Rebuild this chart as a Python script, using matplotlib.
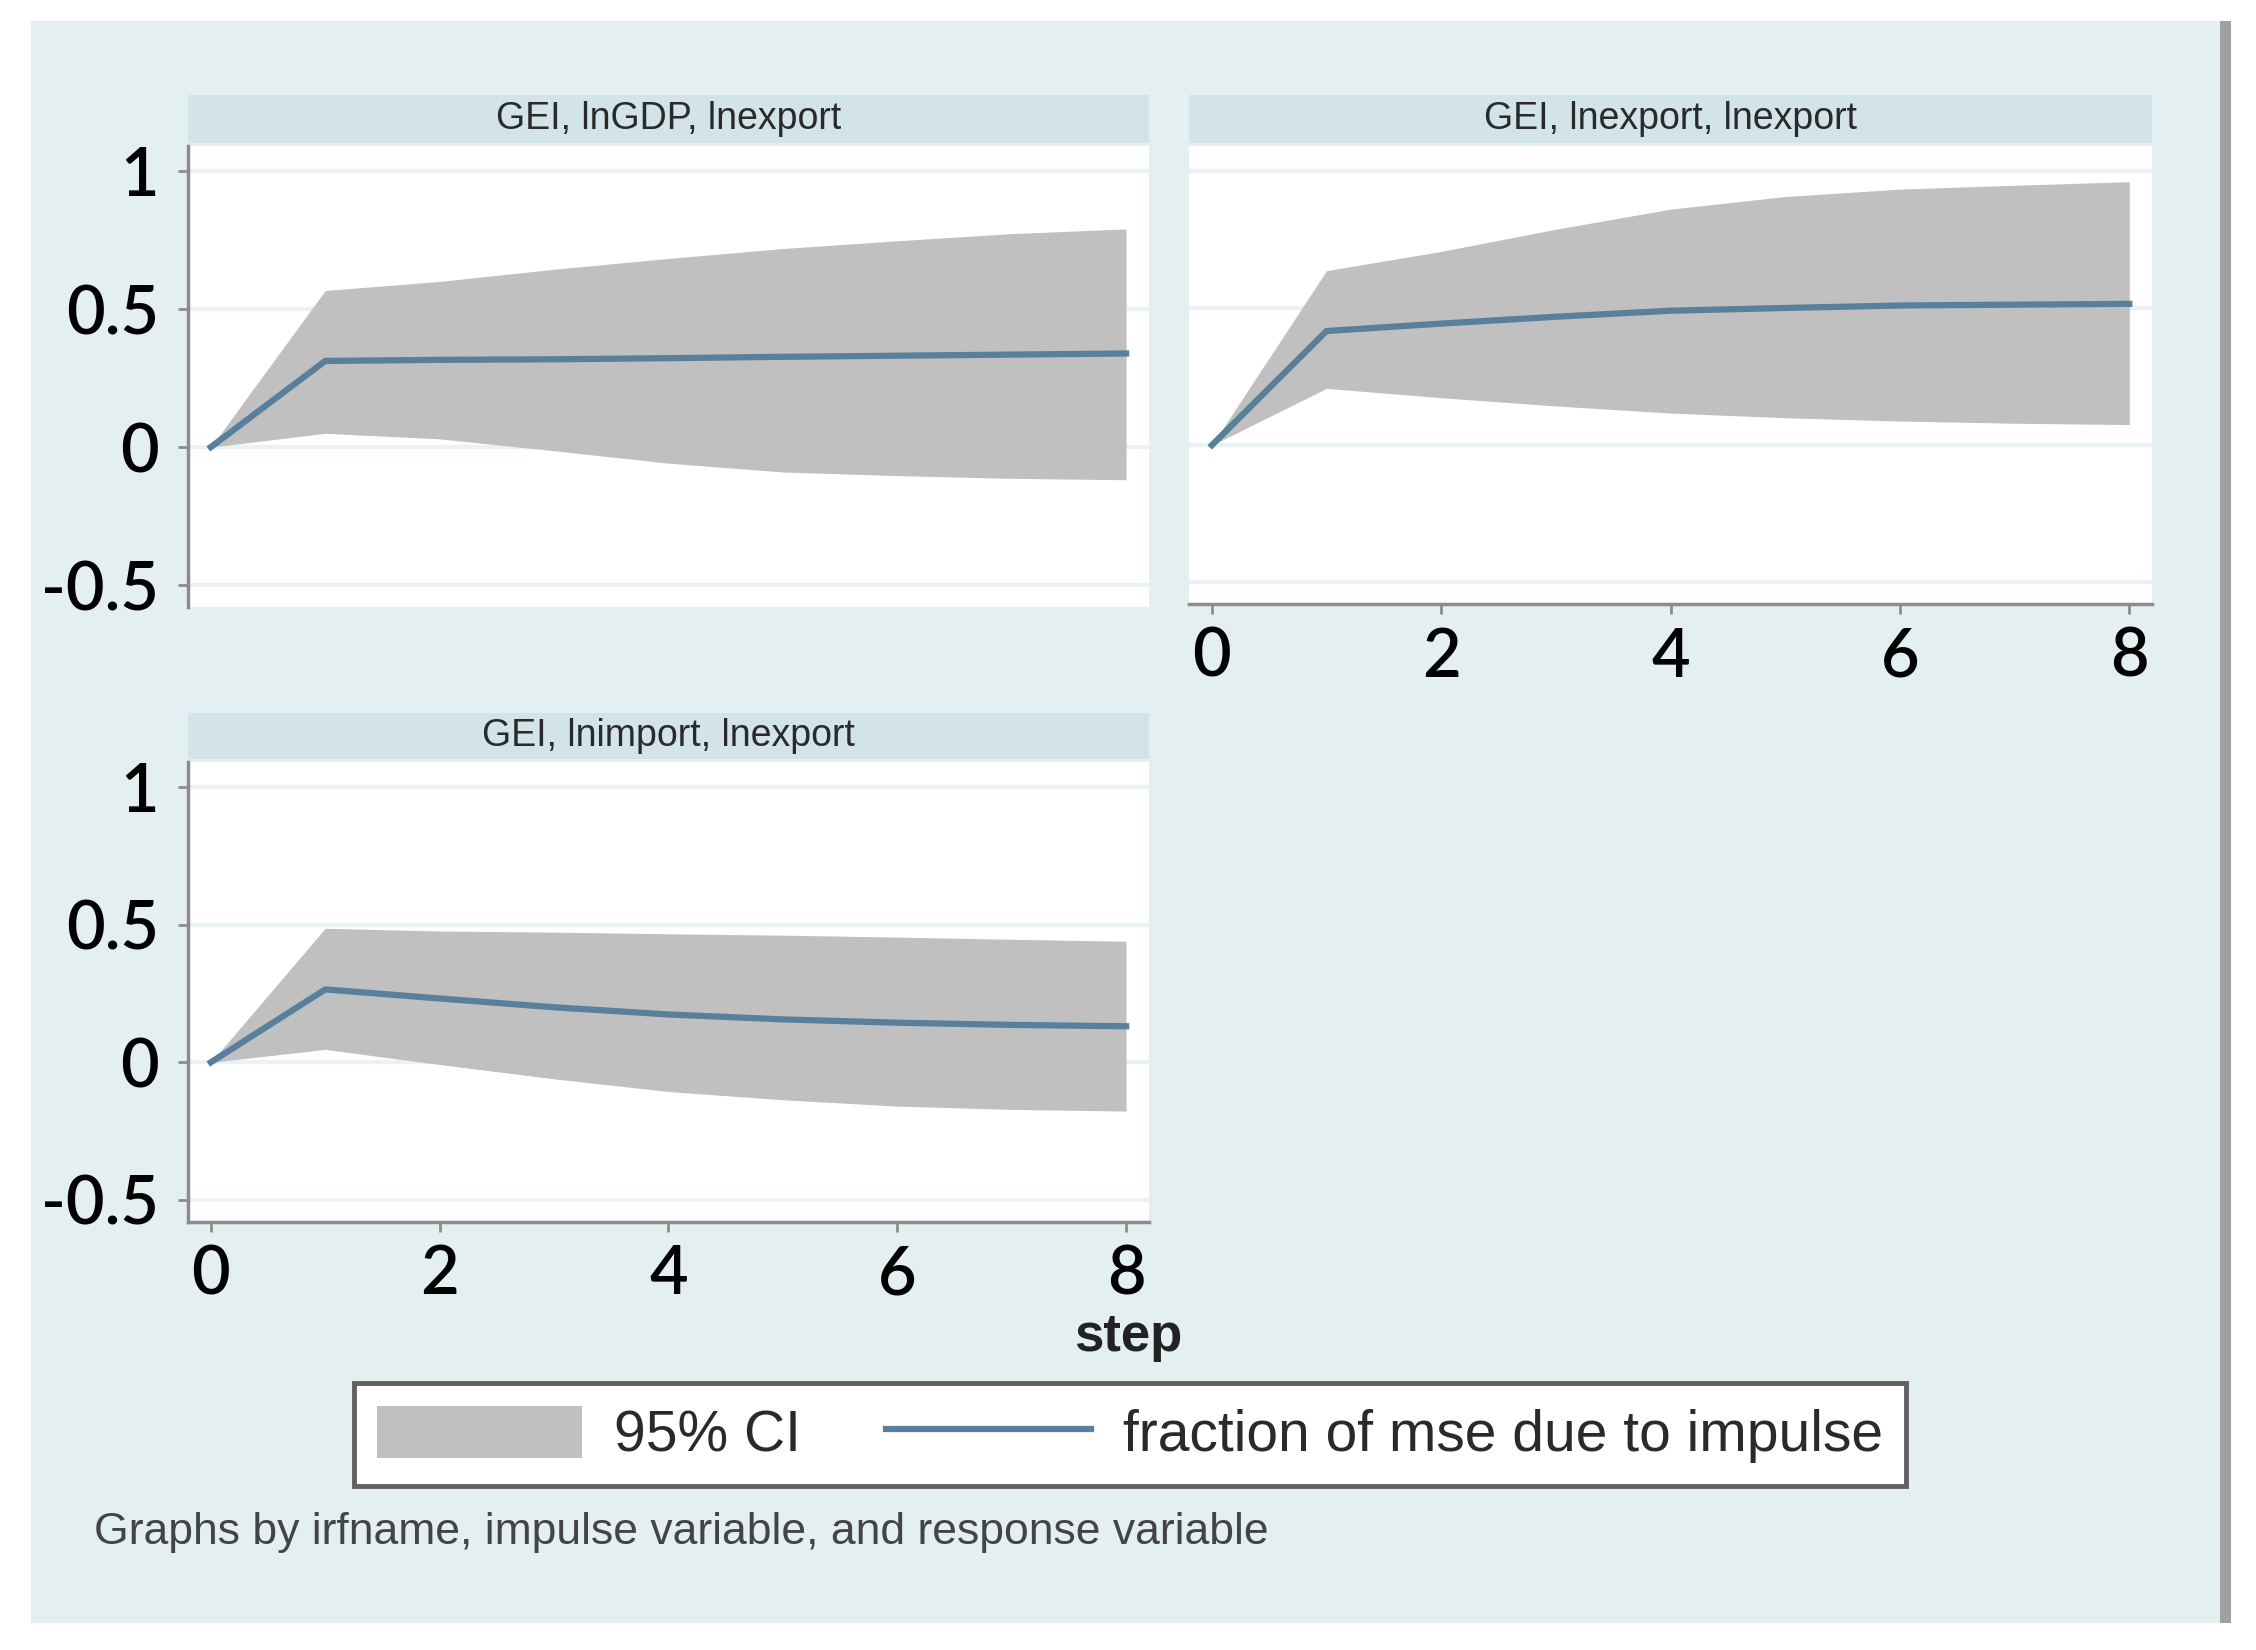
import numpy as np
import matplotlib
matplotlib.use("Agg")
import matplotlib.pyplot as plt
from matplotlib.patches import Rectangle, Patch
from matplotlib.lines import Line2D

# ── Data ───────────────────────────────────────────────────────────────────────
steps = [0, 1, 2, 3, 4, 5, 6, 7, 8]
titles = ["GEI, lnGDP, lnexport", "GEI, lnexport, lnexport", "GEI, lnimport, lnexport"]

fevd_gdp = [0, 0.312, 0.316, 0.318, 0.322, 0.327, 0.331, 0.335, 0.339]
lo_gdp   = [0, 0.050, 0.030, -0.013, -0.058, -0.090, -0.103, -0.113, -0.118]
hi_gdp   = [0, 0.567, 0.600, 0.644, 0.683, 0.719, 0.747, 0.773, 0.790]

fevd_exp = [0, 0.416, 0.443, 0.468, 0.490, 0.500, 0.509, 0.512, 0.515]
lo_exp   = [0, 0.207, 0.173, 0.143, 0.117, 0.100, 0.088, 0.080, 0.075]
hi_exp   = [0, 0.636, 0.706, 0.787, 0.860, 0.906, 0.933, 0.947, 0.960]

fevd_imp = [0, 0.265, 0.232, 0.200, 0.174, 0.156, 0.144, 0.136, 0.131]
lo_imp   = [0, 0.047, -0.008, -0.060, -0.106, -0.136, -0.159, -0.171, -0.177]
hi_imp   = [0, 0.487, 0.477, 0.473, 0.467, 0.462, 0.455, 0.447, 0.440]

yticks = [-0.5, 0, 0.5, 1]
ytick_labels = ["-0.5", "0", "0.5", "1"]
xticks = [0, 2, 4, 6, 8]

# ── Style ──────────────────────────────────────────────────────────────────────
BG      = "#e4eff1"
STRIP   = "#d3e3ea"
CI_COL  = "#c0c0c0"
LINE    = "#58809c"
AXCOL   = "#8c8c8c"
GRID    = "#e9f2f4"
NARROW  = ["Liberation Sans Narrow", "Liberation Sans", "DejaVu Sans"]
TICKF   = ["Lato", "DejaVu Sans"]

fig = plt.figure(figsize=(22.56, 16.5), dpi=100)
fig.patch.set_facecolor("white")
fig.add_artist(Rectangle((0.0137, 0.0164), 0.9753, 0.9709, transform=fig.transFigure,
                         facecolor=BG, edgecolor="none", zorder=-10))
fig.add_artist(Rectangle((0.9840, 0.0164), 0.0050, 0.9709, transform=fig.transFigure,
                         facecolor="#a0a0a0", edgecolor="none", zorder=-9))

panels = [
    # (axes rect, strip rect, line, lo, hi, show_y, show_x)
    ([0.0833, 0.6319, 0.4260, 0.2796], [0.0833, 0.9135, 0.4260, 0.0290],
     fevd_gdp, lo_gdp, hi_gdp, True, False),
    ([0.5270, 0.6337, 0.4270, 0.2778], [0.5270, 0.9135, 0.4270, 0.0290],
     fevd_exp, lo_exp, hi_exp, False, True),
    ([0.0833, 0.2594, 0.4260, 0.2786], [0.0833, 0.5399, 0.4260, 0.0280],
     fevd_imp, lo_imp, hi_imp, True, True),
]

for (rect, srect, mid, lo, hi, show_y, show_x), title in zip(panels, titles):
    ax = fig.add_axes(rect)
    ax.set_facecolor("white")
    ax.fill_between(steps, lo, hi, color=CI_COL, lw=0, zorder=2)
    ax.plot(steps, mid, color=LINE, lw=4.5, zorder=3)
    ax.set_xlim(-0.2, 8.2)
    ax.set_ylim(-0.58, 1.09)
    ax.set_yticks(yticks)
    ax.set_yticklabels(ytick_labels)
    ax.set_xticks(xticks)
    ax.yaxis.grid(True, color=GRID, lw=3, zorder=0)
    ax.set_axisbelow(True)
    for s in ["top", "right"]:
        ax.spines[s].set_visible(False)
    ax.spines["left"].set_visible(show_y)
    ax.spines["bottom"].set_visible(show_x)
    for s in ["left", "bottom"]:
        ax.spines[s].set_color(AXCOL)
        ax.spines[s].set_linewidth(2.5)
    ax.tick_params(axis="y", left=show_y, labelleft=show_y, length=7, width=2,
                   color=AXCOL, pad=14)
    ax.tick_params(axis="x", bottom=show_x, labelbottom=show_x, length=7, width=2,
                   color=AXCOL, pad=9)
    for lab in ax.get_xticklabels() + ax.get_yticklabels():
        lab.set_fontfamily(TICKF)
        lab.set_fontsize(48)
        lab.set_fontweight("semibold")
        lab.set_color("black")

    sax = fig.add_axes(srect)
    sax.set_facecolor(STRIP)
    sax.set_xticks([])
    sax.set_yticks([])
    for s in sax.spines.values():
        s.set_visible(False)
    sax.text(0.5, 0.5, title, ha="center", va="center", fontsize=27,
             family=NARROW, color="#2a2a2a", transform=sax.transAxes)

fig.text(0.5, 0.19, "step", ha="center", va="center", fontsize=38,
         family=NARROW, fontweight="bold", color="#222222")

handles = [Patch(facecolor=CI_COL, edgecolor="none", label="95% CI"),
           Line2D([], [], color=LINE, lw=4.5, label="fraction of mse due to impulse")]
leg = fig.legend(handles=handles, loc="center", bbox_to_anchor=(0.501, 0.1306), ncol=2,
                 frameon=True, fancybox=False, edgecolor="#606060", facecolor="white",
                 framealpha=1, prop={"family": NARROW, "size": 41}, handlelength=3.6,
                 handleheight=1.04, handletextpad=0.56, columnspacing=1.5, borderpad=0.4)
leg.get_frame().set_linewidth(3.5)
for t in leg.get_texts():
    t.set_color("#2a2a2a")

fig.text(0.0417, 0.071, "Graphs by irfname, impulse variable, and response variable",
         ha="left", va="center", fontsize=32, family=NARROW, color="#444444")

plt.savefig("out.png", dpi=100)
